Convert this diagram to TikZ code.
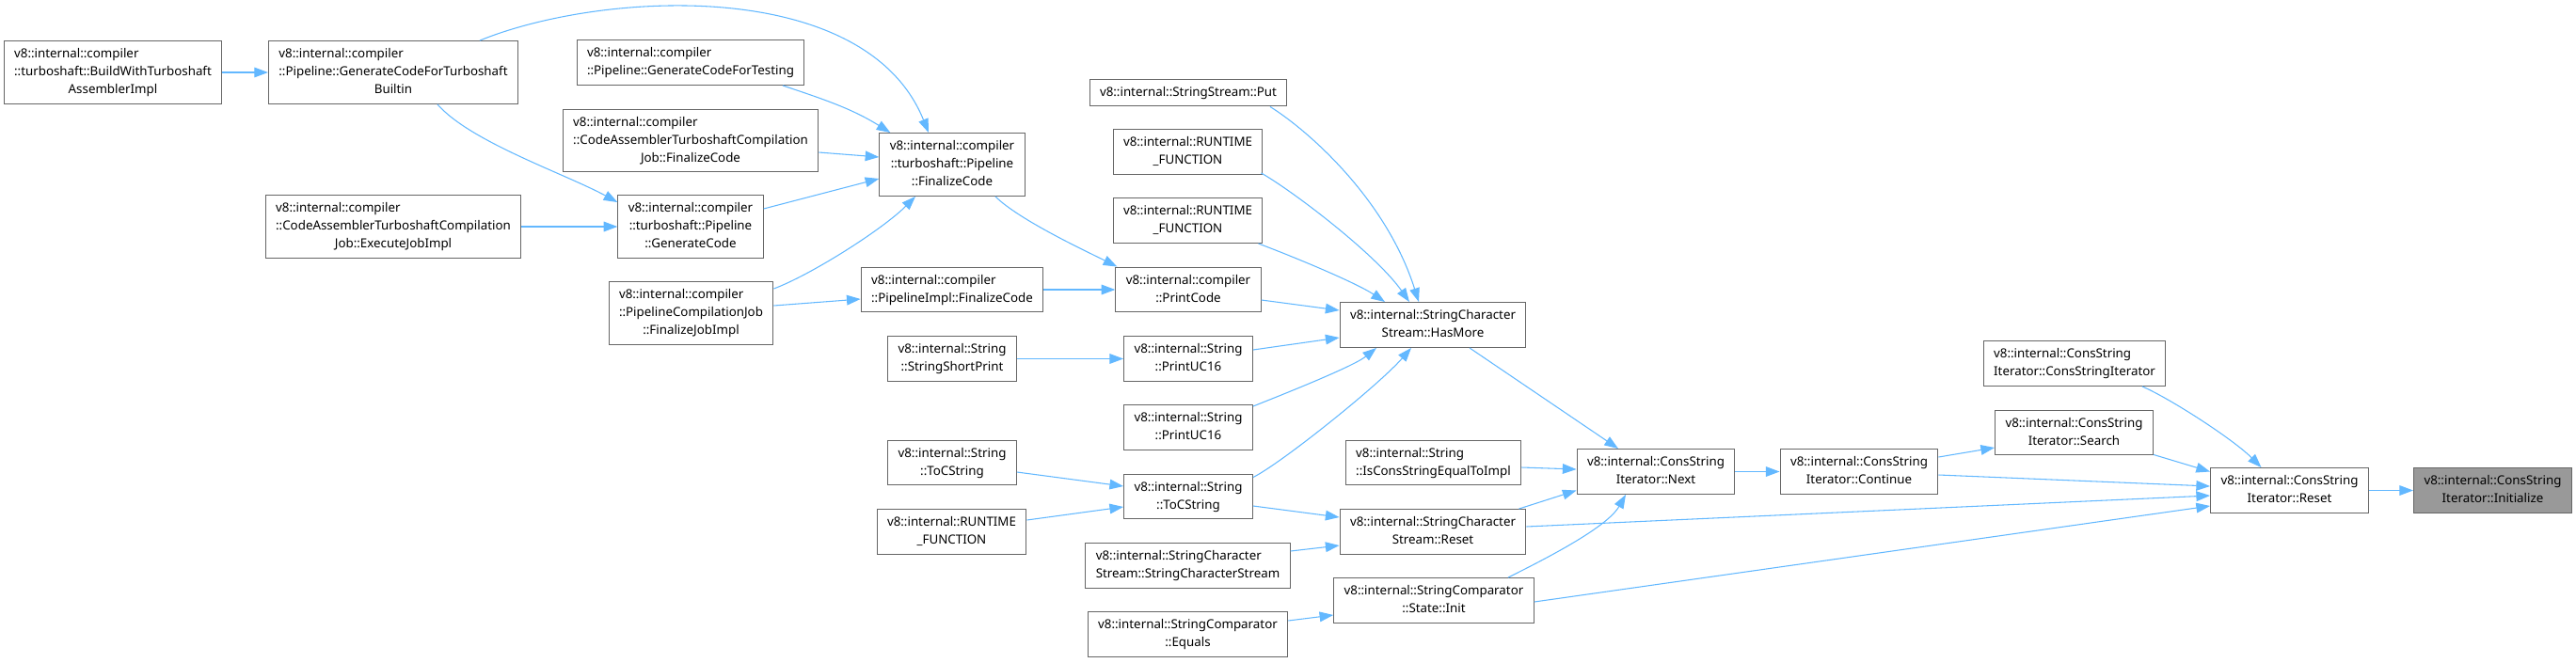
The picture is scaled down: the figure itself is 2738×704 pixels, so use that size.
\documentclass[tikz,border=0pt]{standalone}
\usepackage{fontspec}
\setmainfont{Noto Sans}
\usetikzlibrary{arrows.meta,calc}

\definecolor{edgeblue}{HTML}{63B8FF}
\definecolor{boxgray}{HTML}{666666}
\definecolor{hlgray}{HTML}{999999}

%% first line left, the rest centred
\newcommand{\fnl}[2]{\begin{tabular}{@{}c@{}}\multicolumn{1}{@{}l@{}}{#1}\\#2\end{tabular}}
\newcommand{\fno}[1]{\begin{tabular}{@{}c@{}}#1\end{tabular}}

\tikzset{
  fn/.style={draw=boxgray, fill=white, line width=0.8pt, inner xsep=8.2pt, inner ysep=3.7pt,
    font=\fontsize{10pt}{14.25pt}\selectfont},
  fnhl/.style={fn, fill=hlgray},
  call/.style={draw=edgeblue, line width=0.8pt, -{Triangle[length=11pt,width=8pt]}}
}

\begin{document}
\begin{tikzpicture}[x=0.75pt,y=-0.75pt]
  \useasboundingbox (0,0) rectangle (2738,704);

  %% compiler callers
  \node[fn] (build)     at (120,77)    {\fnl{v8::internal::compiler}{::turboshaft::BuildWithTurboshaft\\AssemblerImpl}};
  \node[fn] (gcTSB)     at (418,77)    {\fnl{v8::internal::compiler}{::Pipeline::GenerateCodeForTurboshaft\\Builtin}};
  \node[fn] (caExec)    at (418,241)   {\fnl{v8::internal::compiler}{::CodeAssemblerTurboshaftCompilation\\Job::ExecuteJobImpl}};
  \node[fn] (gcTesting) at (734,66.5)  {\fnl{v8::internal::compiler}{::Pipeline::GenerateCodeForTesting}};
  \node[fn] (caFinal)   at (734,149.5) {\fnl{v8::internal::compiler}{::CodeAssemblerTurboshaftCompilation\\Job::FinalizeCode}};
  \node[fn] (tsGen)     at (734,241)   {\fnl{v8::internal::compiler}{::turboshaft::Pipeline\\::GenerateCode}};
  \node[fn] (finJob)    at (734.5,333) {\fnl{v8::internal::compiler}{::PipelineCompilationJob\\::FinalizeJobImpl}};

  %% third column
  \node[fn] (tsFinal)    at (1012,175)    {\fnl{v8::internal::compiler}{::turboshaft::Pipeline\\::FinalizeCode}};
  \node[fn] (implFinal)  at (1012,308)    {\fnl{v8::internal::compiler}{::PipelineImpl::FinalizeCode}};
  \node[fn] (shortPrint) at (1012,381.5)  {\fnl{v8::internal::String}{::StringShortPrint}};
  \node[fn] (toCStrL)    at (1012,492)    {\fnl{v8::internal::String}{::ToCString}};
  \node[fn] (rfC)        at (1011.5,565.5){\fnl{v8::internal::RUNTIME}{\_FUNCTION}};

  %% fourth column
  \node[fn] (put)       at (1263,98.5)   {\fno{v8::internal::StringStream::Put}};
  \node[fn] (rfA)       at (1262.5,161.5){\fnl{v8::internal::RUNTIME}{\_FUNCTION}};
  \node[fn] (rfB)       at (1262.5,234.5){\fnl{v8::internal::RUNTIME}{\_FUNCTION}};
  \node[fn] (printCode) at (1263,308)    {\fnl{v8::internal::compiler}{::PrintCode}};
  \node[fn] (uc16A)     at (1263,381.5)  {\fnl{v8::internal::String}{::PrintUC16}};
  \node[fn] (uc16B)     at (1263,454.5)  {\fnl{v8::internal::String}{::PrintUC16}};
  \node[fn] (toCStrM)   at (1263,528)    {\fnl{v8::internal::String}{::ToCString}};
  \node[fn] (scsCtor)   at (1262.5,601.5){\fnl{v8::internal::StringCharacter}{Stream::StringCharacterStream}};
  \node[fn] (equals)    at (1262.5,674.5){\fnl{v8::internal::StringComparator}{::Equals}};

  %% string stream column
  \node[fn] (hasMore)   at (1523,345.5)  {\fnl{v8::internal::StringCharacter}{Stream::HasMore}};
  \node[fn] (isConsEq)  at (1523.5,492)  {\fnl{v8::internal::String}{::IsConsStringEqualToImpl}};
  \node[fn] (scsReset)  at (1523,565.5)  {\fnl{v8::internal::StringCharacter}{Stream::Reset}};
  \node[fn] (stateInit) at (1524,638.5)  {\fnl{v8::internal::StringComparator}{::State::Init}};

  %% cons string iterator
  \node[fn] (next)    at (1760,501.5)  {\fnl{v8::internal::ConsString}{Iterator::Next}};
  \node[fn] (cont)    at (1976,501.5)  {\fnl{v8::internal::ConsString}{Iterator::Continue}};
  \node[fn] (csiCtor) at (2205,386.5)  {\fnl{v8::internal::ConsString}{Iterator::ConsStringIterator}};
  \node[fn] (search)  at (2204.5,460)  {\fnl{v8::internal::ConsString}{Iterator::Search}};
  \node[fn] (reset)   at (2433.5,521.5){\fnl{v8::internal::ConsString}{Iterator::Reset}};
  \node[fnhl] (init)  at (2649.5,521.5){\fnl{v8::internal::ConsString}{Iterator::Initialize}};

  %% calls, left part
  \draw[call] (build.east) -- (gcTSB.west);
  \draw[call] ($(gcTSB.north)+(92,0)$) .. controls +(130,-53) and +(-67,-166) .. ($(tsFinal.north)+(-25,0)$);
  \draw[call] ($(gcTSB.south)+(47,0)$) .. controls +(35,40) and +(-55,-30) .. ($(tsGen.north west)+(0,8)$);
  \draw[call] (caExec.east) -- (tsGen.west);
  \draw[call] ($(gcTesting.south)+(98,0)$) .. controls +(45,15) and +(-40,-25) .. ($(tsFinal.north west)+(12,0)$);
  \draw[call] ($(caFinal.east)+(0,12.5)$) -- ($(tsFinal.west)+(0,-8)$);
  \draw[call] ($(tsGen.east)+(0,-19)$) -- ($(tsFinal.west)+(0,15)$);
  \draw[call] ($(finJob.east)+(0,-26)$) .. controls +(40,-15) and +(-35,35) .. ($(tsFinal.south)+(-39,0)$);
  \draw[call] ($(finJob.east)+(0,-8)$) -- ($(implFinal.west)+(0,10)$);
  \draw[call] ($(tsFinal.south)+(46,0)$) .. controls +(25,25) and +(-30,-15) .. ($(printCode.north west)+(2,0)$);
  \draw[call] (implFinal.east) -- (printCode.west);
  \draw[call] (shortPrint.east) -- (uc16A.west);
  \draw[call] ($(toCStrL.east)+(0,10)$) -- ($(toCStrM.west)+(0,-11)$);
  \draw[call] ($(rfC.east)+(0,-12.5)$) -- ($(toCStrM.west)+(0,11)$);

  %% calls into HasMore
  \draw[call] ($(put.south)+(87,0)$) .. controls +(40,25) and +(-35,-110) .. ($(hasMore.north)+(-15,0)$);
  \draw[call] ($(rfA.south east)+(-2,-2)$) .. controls +(35,20) and +(-35,-50) .. ($(hasMore.north)+(-25,0)$);
  \draw[call] ($(rfB.south east)+(-5,0)$) .. controls +(40,15) and +(-30,-20) .. ($(hasMore.north)+(-51,0)$);
  \draw[call] ($(printCode.east)+(0,11)$) -- ($(hasMore.west)+(0,-15.5)$);
  \draw[call] ($(uc16A.east)+(0,-9.5)$) -- ($(hasMore.west)+(0,13.5)$);
  \draw[call] ($(uc16B.north east)+(0,2)$) .. controls +(30,-12) and +(-25,20) .. ($(hasMore.south)+(-60,0)$);
  \draw[call] ($(toCStrM.north east)+(0,4)$) .. controls +(30,-15) and +(-35,40) .. ($(hasMore.south)+(-23,0)$);
  \draw[call] ($(toCStrM.east)+(0,10)$) -- ($(scsReset.west)+(0,-15.5)$);
  \draw[call] ($(scsCtor.east)+(0,-15.5)$) -- ($(scsReset.west)+(0,14.5)$);
  \draw[call] ($(equals.east)+(0,-14.5)$) -- ($(stateInit.west)+(0,15.5)$);

  %% calls into the iterator
  \draw[call] ($(hasMore.south)+(39,0)$) -- ($(next.north)+(-40,0)$);
  \draw[call] ($(isConsEq.east)+(0,5)$) -- ($(next.west)+(0,-2.5)$);
  \draw[call] ($(scsReset.north east)+(-8,0)$) -- ($(next.west)+(0,20)$);
  \draw[call] ($(stateInit.north)+(79,0)$) .. controls +(40,-20) and +(-20,35) .. ($(next.south)+(-32,0)$);
  \draw[call] (next.east) -- (cont.west);
  \draw[call] ($(cont.east)+(0,-15.5)$) -- ($(search.west)+(0,16)$);
  \draw[call] ($(cont.east)+(0,3.5)$) -- ($(reset.west)+(0,-4.5)$);
  \draw[call] ($(scsReset.east)+(0,-5.5)$) -- ($(reset.west)+(0,5.5)$);
  \draw[call] ($(stateInit.east)+(0,1.5)$) -- ($(reset.west)+(0,16.5)$);
  \draw[call] ($(search.south east)+(0,-1)$) -- ($(reset.west)+(0,-20)$);
  \draw[call] ($(csiCtor.south)+(72,0)$) .. controls +(30,13) and +(-30,-30) .. ($(reset.north)+(-30,0)$);
  \draw[call] (reset.east) -- (init.west);
\end{tikzpicture}
\end{document}
